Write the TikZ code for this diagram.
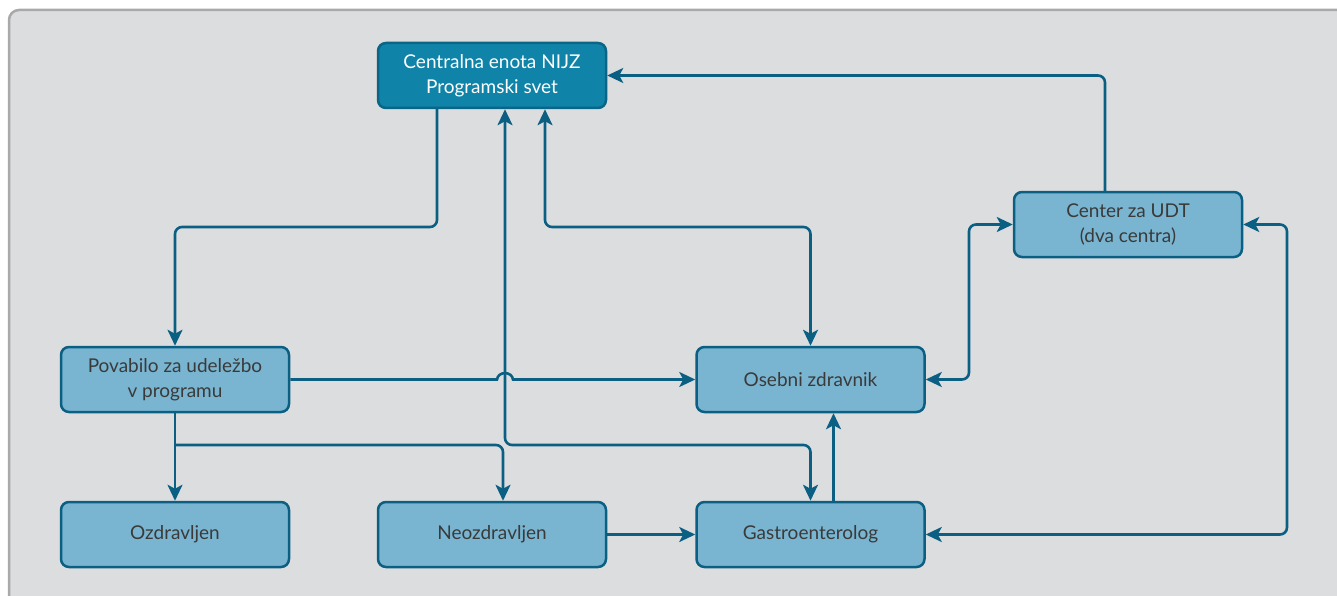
\documentclass[tikz,border=0pt]{standalone}
\usepackage{fontspec}
\setmainfont{Lato}
\usetikzlibrary{arrows.meta}
\definecolor{bgfill}{HTML}{DCDDDF}
\definecolor{bgline}{HTML}{A9A9A9}
\definecolor{conncol}{HTML}{0B5F82}
\definecolor{darkfill}{HTML}{1083A8}
\definecolor{darkline}{HTML}{0B6586}
\definecolor{lightfill}{HTML}{79B5D1}
\definecolor{txtcol}{HTML}{3A3A3A}
\tikzset{
  box/.style={draw=conncol, fill=lightfill, line width=2.5pt, rounded corners=8pt,
    minimum width=228pt, minimum height=65pt, inner sep=0pt, align=center,
    text=txtcol, font=\fontsize{19}{25}\selectfont},
  darkbox/.style={box, draw=darkline, fill=darkfill, text=white},
  conn/.style={draw=conncol, line width=2.6pt, rounded corners=7pt,
    arrows={-}, >={Stealth[length=16pt,width=15pt,inset=4pt]}},
}
\begin{document}
\begin{tikzpicture}[x=1pt,y=-1pt]
\useasboundingbox (0,0) rectangle (1337,596);
\draw[bgline, fill=bgfill, line width=2.5pt, rounded corners=10pt] (9,10) rectangle (1360,620);

\node[darkbox] (cen) at (492,75.5) {Centralna enota NIJZ\\Programski svet};
\node[box] (udt) at (1128,224.5) {Center za UDT\\(dva centra)};
\node[box] (pov) at (175,379.5) {Povabilo za udeležbo\\v programu};
\node[box] (osb) at (810.5,379.5) {Osebni zdravnik};
\node[box] (oz) at (175,534.5) {Ozdravljen};
\node[box] (neo) at (492,534.5) {Neozdravljen};
\node[box] (gas) at (810.5,534.5) {Gastroenterolog};

% Centralna -> Povabilo
\draw[conn,->] ([xshift=-55pt]cen.south) -- (437,227) -- (175,227) -- (pov.north);
% Centralna <-> Gastroenterolog
\draw[conn,<->] ([xshift=13pt]cen.south) -- (505,445) -- (810.5,445) -- (gas.north);
% Povabilo -> Ozdravljen
\draw[conn,->] (pov.south) -- (oz.north);
% Povabilo -> Neozdravljen
\draw[conn,->] (175,445) -- (503,445) -- ([xshift=11pt]neo.north);
% Centralna <-> Osebni
\draw[conn,<->] ([xshift=53pt]cen.south) -- (545,227) -- (810.5,227) -- (osb.north);
% UDT -> Centralna
\draw[conn,->] ([xshift=-23pt]udt.north) -- (1105,75.5) -- (cen.east);
% Osebni <-> UDT
\draw[conn,<->] (osb.east) -- (969,379.5) -- (969,224.5) -- (udt.west);
% Gastro <-> UDT
\draw[conn,<->] (gas.east) -- (1287,534.5) -- (1287,224.5) -- (udt.east);
% Neozdravljen -> Gastro
\draw[conn,->] (neo.east) -- (gas.west);
% Gastro -> Osebni
\draw[conn,->] ([xshift=23pt]gas.north) -- ([xshift=23pt]osb.south);
% Povabilo -> Osebni with hop
\draw[conn,->,rounded corners=0pt] (pov.east) -- (497,379.5) .. controls (498,371) and (512,371) .. (513,379.5) -- (osb.west);
\end{tikzpicture}
\end{document}
